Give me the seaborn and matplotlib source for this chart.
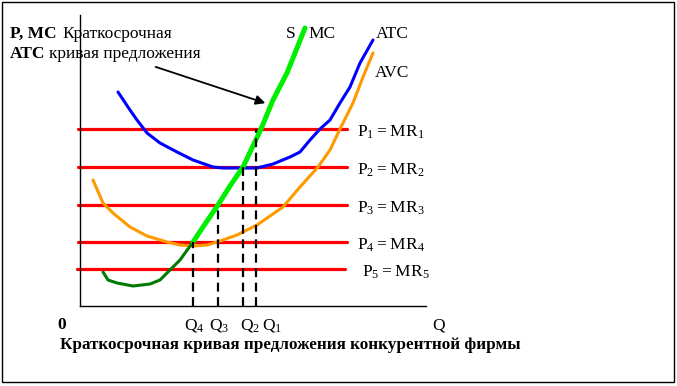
import numpy as np
import pandas as pd
import seaborn as sns
import matplotlib.pyplot as plt
from matplotlib.patches import Rectangle

# curve points (Q right of origin, P above axis, in px units)
mc_low_q = [23, 28, 37, 53, 70, 80, 90, 100, 113]
mc_low_p = [34, 26, 23, 20, 22, 26, 36, 46, 64]
supply_q = [113, 125, 138, 150, 163, 172, 181, 193, 207, 225]
supply_p = [64, 82, 101, 120, 139, 158, 177, 206, 233, 278]
atc_q = [38, 50, 57, 67, 80, 97, 113, 133, 143, 160, 177, 193, 210, 220, 230, 240, 250, 260, 270, 280, 293]
atc_p = [214, 196, 186, 173, 163, 154, 146, 139, 138, 138, 138, 142, 149, 154, 166, 177, 186, 203, 219, 243, 266]
avc_q = [13, 23, 33, 50, 67, 87, 100, 113, 127, 140, 157, 177, 203, 220, 238, 250, 260, 273, 283, 293]
avc_p = [126, 103, 93, 79, 70, 64, 61, 60, 61, 65, 71, 81, 99, 119, 139, 156, 177, 203, 229, 253]

prices = [177, 139, 101, 64, 37]
quantities = [176, 163, 138, 113]   # Q1..Q4
price_labels = [r'$\mathrm{P_1 = MR_1}$', r'$\mathrm{P_2 = MR_2}$', r'$\mathrm{P_3 = MR_3}$',
                r'$\mathrm{P_4 = MR_4}$', r'$\mathrm{P_5 = MR_5}$']
q_labels = [r'$\mathrm{Q_1}$', r'$\mathrm{Q_2}$', r'$\mathrm{Q_3}$', r'$\mathrm{Q_4}$']

sns.set_style("white")
plt.rcParams['font.family'] = ['Liberation Serif', 'DejaVu Serif']
plt.rcParams['mathtext.fontset'] = 'custom'
plt.rcParams['mathtext.rm'] = 'Liberation Serif'
plt.rcParams['text.color'] = 'black'

W, H = 677, 386
fig = plt.figure(figsize=(W / 100, H / 100), dpi=100)
fig.patch.set_facecolor('white')
fig.patches.append(Rectangle((2 / W, 4 / H), 672 / W, 380 / H, transform=fig.transFigure,
                             fill=False, edgecolor='black', linewidth=1.0))

ax = fig.add_axes([80 / W, (H - 306) / H, 346 / W, 291 / H])
ax.set_xlim(0, 346)
ax.set_ylim(0, 291)
ax.set_facecolor('none')
for s in ['top', 'right']:
    ax.spines[s].set_visible(False)
for s in ['left', 'bottom']:
    ax.spines[s].set_color('black')
    ax.spines[s].set_linewidth(1.0)
ax.set_xticks([])
ax.set_yticks([])

# price = MR lines
for i, p in enumerate(prices):
    x0, x1 = (-3, 265) if i == 4 else (-2, 267)
    sns.lineplot(x=[x0, x1], y=[p, p], color='#FF0000', linewidth=2.3, ax=ax, clip_on=False)

# dashed verticals down to quantity axis
for q, p in zip(quantities, prices[:4]):
    ax.plot([q, q], [0, p], color='black', linewidth=1.6, dashes=(4, 2.5), zorder=3)

sns.lineplot(x=atc_q, y=atc_p, sort=False, color='#0000FF', linewidth=2.2, ax=ax)
sns.lineplot(x=avc_q, y=avc_p, sort=False, color='#FF9900', linewidth=2.2, ax=ax)
sns.lineplot(x=mc_low_q, y=mc_low_p, sort=False, color='#007A00', linewidth=2.2, ax=ax)
sns.lineplot(x=supply_q, y=supply_p, sort=False, color='#00EE00', linewidth=3.6, ax=ax,
             clip_on=False)

# arrow pointing at the supply curve
ax.annotate('', xy=(188, 202), xytext=(73, 240),
            arrowprops=dict(arrowstyle='-|>', color='black', lw=1.3, mutation_scale=14),
            annotation_clip=False)

fs = 12.5
kw = dict(fontsize=fs, clip_on=False, va='center')
ax.text(-70, 272, 'P, MC', fontweight='bold', **kw)
ax.text(-18, 272, 'Краткосрочная', **kw)
ax.text(-70, 252, 'ATC', fontweight='bold', **kw)
ax.text(-31, 252, 'кривая предложения', **kw)
ax.text(206, 272, 'S', **kw)
ax.text(228, 272, 'MC', **kw)
ax.text(296, 272, 'ATC', **kw)
ax.text(295, 233, 'AVC', **kw)

for i, (lab, p) in enumerate(zip(price_labels, prices)):
    x = 282 if i == 4 else 277
    ax.text(x, p - 3, lab, **kw)

ax.text(-23, -19, '0', fontweight='bold', **kw)
ax.text(352, -19, 'Q', **kw)
for lab, x in zip(q_labels, [182, 160, 129, 104]):
    ax.text(x, -19, lab, **kw)

ax.text(-20, -39, 'Краткосрочная кривая предложения конкурентной фирмы',
        fontsize=12.3, fontweight='bold', clip_on=False, va='center')

fig.savefig('out.png', dpi=100)
